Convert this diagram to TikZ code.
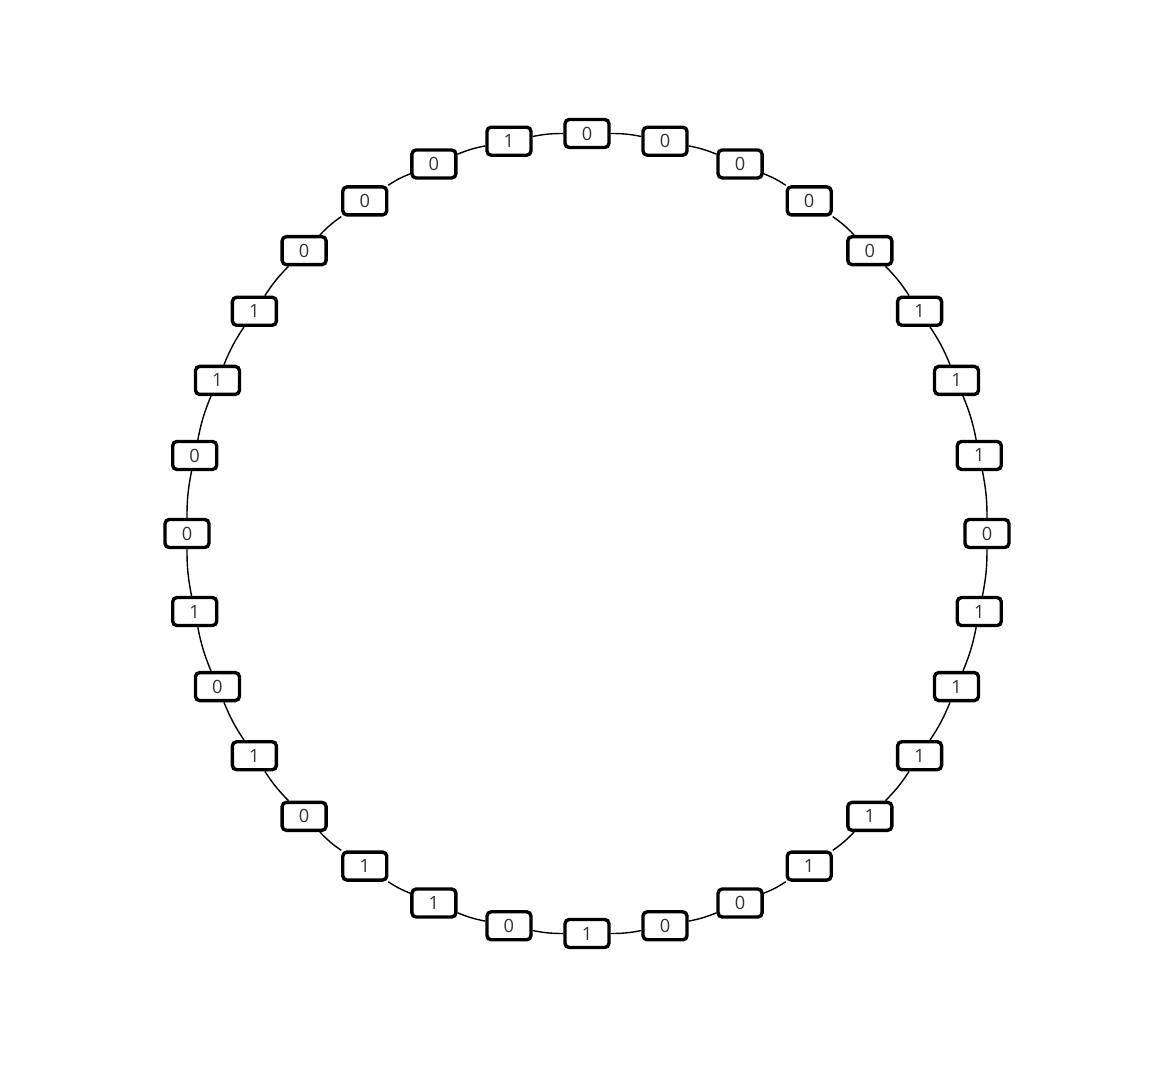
\documentclass[tikz,border=0pt]{standalone}
\usepackage{fontspec}
\setmainfont{Open Sans}
\usetikzlibrary{positioning}

\begin{document}
\begin{tikzpicture}[text centered]
            \tikzstyle{bit}=[draw,line width=2.4pt,rounded corners=3pt,fill=white,minimum width=1.1cm,minimum height=0.7cm,inner sep=0pt,text=black!80,font=\fontsize{13}{15}\selectfont]
            \tikzstyle{ring}=[line width=1pt,bend left=5.625]
            \useasboundingbox (-14.675,-13.5875) rectangle (14.7,13.3375);
            % bits clockwise from the top
            \foreach \b [count=\i from 0] in {0,0,0,0,0,1,1,1,0,1,1,1,1,1,0,0,1,0,1,1,0,1,0,1,0,0,1,1,0,0,0,1}
                \node[bit] (b\i) at ({90-\i*11.25}:10) {\b};
            \foreach \i in {0,...,31} {
                \pgfmathtruncatemacro{\j}{mod(\i+1,32)}
                \draw[ring] (b\i) to (b\j);
            }
        \end{tikzpicture}
\end{document}
